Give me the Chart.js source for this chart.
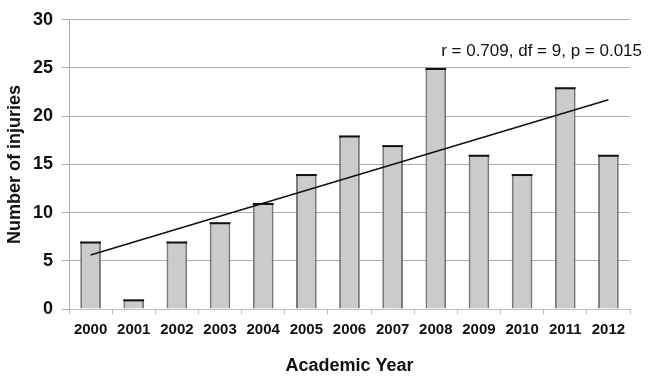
<!DOCTYPE html>
<html><head><meta charset="utf-8">
<script src="https://cdn.jsdelivr.net/npm/chart.js@4/dist/chart.umd.min.js"></script>
<style>html,body{margin:0;padding:0;background:#fff}#wrap{width:650px;height:381px}</style>
</head><body><div id="wrap"><canvas id="c" width="650" height="381"></canvas></div>
<script>
const years = ['2000','2001','2002','2003','2004','2005','2006','2007','2008','2009','2010','2011','2012'];
const injuries = [7,1,7,9,11,14,18,17,25,16,14,23,16];
const trendYears = ['2000','2012'];
const trendValues = [5.6, 21.7];
const yTicks = [0,5,10,15,20,25,30];
const annotation = 'r = 0.709, df = 9, p = 0.015';
const FONT = '"Liberation Sans", Arial, sans-serif';

const topEdge = {
  id:'topEdge',
  afterDatasetsDraw(chart){
    const ctx = chart.ctx;
    const meta = chart.getDatasetMeta(0);
    ctx.save();
    ctx.strokeStyle = '#111';
    ctx.lineWidth = 2;
    meta.data.forEach(b=>{
      const p = b.getProps(['x','y','width'],true);
      ctx.beginPath();
      ctx.moveTo(p.x - p.width/2, p.y+1);
      ctx.lineTo(p.x + p.width/2, p.y+1);
      ctx.stroke();
    });
    ctx.restore();
  },
  afterDraw(chart){
    const ctx = chart.ctx;
    ctx.save();
    ctx.font = '17px ' + FONT;
    ctx.fillStyle = '#111';
    ctx.textAlign = 'right';
    ctx.textBaseline = 'middle';
    ctx.fillText(annotation, chart.chartArea.right + 12, chart.scales.y.getPixelForValue(26.7));
    ctx.restore();
  }
};

new Chart(document.getElementById('c'), {
  data: {
    labels: years,
    datasets: [
      { type:'bar', data: injuries, backgroundColor:'#cbcbcb', borderColor:'#7a7a7a',
        borderWidth:{top:0,left:2,right:2,bottom:0}, borderSkipped:false,
        barPercentage:0.48, categoryPercentage:1, order:2 },
      { type:'line', data: trendYears.map((y,i)=>({x:y,y:trendValues[i]})),
        borderColor:'#111', borderWidth:1.5, pointRadius:0, fill:false, order:1 }
    ]
  },
  options: {
    responsive:false, animation:false,
    layout:{padding:{top:12,right:20,left:0,bottom:0}},
    plugins:{legend:{display:false}, tooltip:{enabled:false}},
    scales:{
      x:{
        offset:true,
        grid:{offset:true, drawOnChartArea:false, drawTicks:true, tickLength:5, color:'#bdbdbd'},
        border:{color:'#bdbdbd', width:1},
        ticks:{color:'#111', font:{family:FONT, size:15, weight:'bold'}, padding:7, maxRotation:0, autoSkip:false},
        title:{display:true, text:'Academic Year', color:'#111', font:{family:FONT, size:18, weight:'bold'}, padding:{top:6}},
        afterFit(s){ s.height = 72; }
      },
      y:{
        min:0, max:30,
        afterBuildTicks(s){ s.ticks = yTicks.map(v=>({value:v})); },
        grid:{color:'#ababab', lineWidth:1, tickLength:7},
        border:{color:'#ababab', width:1},
        ticks:{color:'#111', font:{family:FONT, size:18, weight:'bold'}, padding:9},
        title:{display:true, text:'Number of injuries', color:'#111', font:{family:FONT, size:18, weight:'bold'}, padding:{bottom:2}},
        afterFit(s){ s.width = 69; }
      }
    }
  },
  plugins:[topEdge]
});
</script>
</body></html>
